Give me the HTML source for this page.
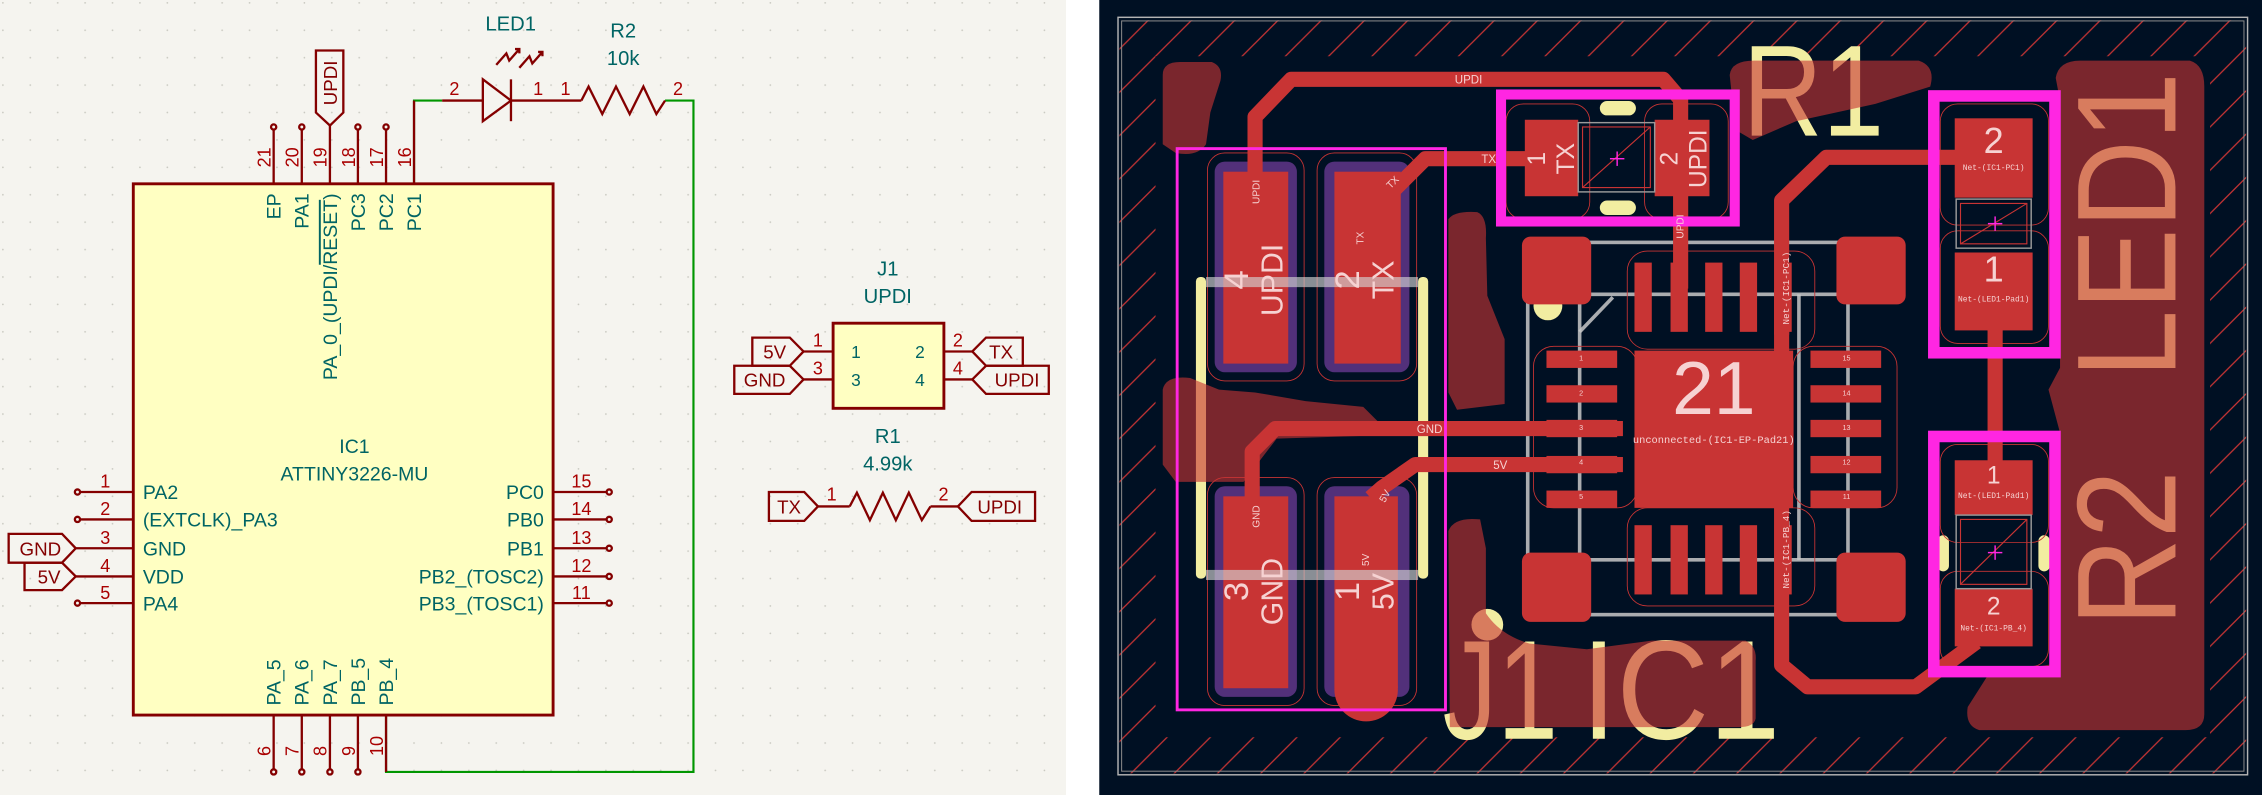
<!DOCTYPE html>
<html><head><meta charset="utf-8"><style>
html,body{margin:0;padding:0;background:#fff;}
svg{display:block;}
text{font-family:"Liberation Sans",sans-serif;}
.t{fill:#006464;}
.n{fill:#a90000;font-size:12.5px;}
.k{stroke:#840000;stroke-width:1.6;fill:none;}
.lbl{fill:#840000;font-size:13px;}
.pt{fill:#f6d2d2;}
.mono{font-family:"Liberation Mono",monospace;}
</style></head><body>
<svg width="2262" height="795" viewBox="0 0 1568 551" preserveAspectRatio="none" xmlns="http://www.w3.org/2000/svg">
<defs>
<pattern id="dots" width="19" height="19" patternUnits="userSpaceOnUse"><circle cx="2" cy="2" r="0.6" fill="#c8c8c0"/></pattern>
<pattern id="hatch" width="30" height="30" patternUnits="userSpaceOnUse"><line x1="0" y1="30" x2="30" y2="0" stroke="#c83434" stroke-width="0.9"/><line x1="-3" y1="3" x2="3" y2="-3" stroke="#c83434" stroke-width="0.9"/><line x1="27" y1="33" x2="33" y2="27" stroke="#c83434" stroke-width="0.9"/></pattern>
</defs>
<!-- schematic -->
<rect x="0" y="0" width="739" height="551" fill="#f5f4ef"/>
<rect x="0" y="0" width="739" height="551" fill="url(#dots)"/>
<rect x="739" y="0" width="23" height="551" fill="#ffffff"/>

<polyline points="287,127 287,69.7 306.5,69.7" fill="none" stroke="#009600" stroke-width="1.5"/>
<polyline points="461,69.7 480.7,69.7 480.7,535 267.6,535 267.6,495.6" fill="none" stroke="#009600" stroke-width="1.5"/>

<rect x="92.4" y="127.4" width="291" height="368.2" fill="#ffffc2" stroke="#840000" stroke-width="2"/>
<g class="k">
<line x1="189.7" y1="90" x2="189.7" y2="127"/><line x1="209.2" y1="90" x2="209.2" y2="127"/><line x1="228.7" y1="87" x2="228.7" y2="127"/><line x1="248.1" y1="90" x2="248.1" y2="127"/><line x1="267.6" y1="90" x2="267.6" y2="127"/><line x1="287" y1="69.7" x2="287" y2="127"/>
<circle cx="189.7" cy="88" r="1.8"/><circle cx="209.2" cy="88" r="1.8"/><circle cx="248.1" cy="88" r="1.8"/><circle cx="267.6" cy="88" r="1.8"/>
<line x1="55.5" y1="341" x2="92" y2="341"/><line x1="55.5" y1="360" x2="92" y2="360"/><line x1="52.5" y1="380" x2="92" y2="380"/><line x1="52.5" y1="399.5" x2="92" y2="399.5"/><line x1="55.5" y1="418" x2="92" y2="418"/>
<circle cx="53.7" cy="341" r="1.8"/><circle cx="53.7" cy="360" r="1.8"/><circle cx="53.7" cy="418" r="1.8"/>
<line x1="383.4" y1="341" x2="420.5" y2="341"/><line x1="383.4" y1="360" x2="420.5" y2="360"/><line x1="383.4" y1="380" x2="420.5" y2="380"/><line x1="383.4" y1="399.5" x2="420.5" y2="399.5"/><line x1="383.4" y1="418" x2="420.5" y2="418"/>
<circle cx="422.3" cy="341" r="1.8"/><circle cx="422.3" cy="360" r="1.8"/><circle cx="422.3" cy="380" r="1.8"/><circle cx="422.3" cy="399.5" r="1.8"/><circle cx="422.3" cy="418" r="1.8"/>
<line x1="189.7" y1="496" x2="189.7" y2="533"/><line x1="209.2" y1="496" x2="209.2" y2="533"/><line x1="228.7" y1="496" x2="228.7" y2="533"/><line x1="248.1" y1="496" x2="248.1" y2="533"/><line x1="267.6" y1="496" x2="267.6" y2="535"/>
<circle cx="189.7" cy="535" r="1.8"/><circle cx="209.2" cy="535" r="1.8"/><circle cx="228.7" cy="535" r="1.8"/><circle cx="248.1" cy="535" r="1.8"/>
<polygon points="219,35 238,35 238,78 228.7,87 219,78"/>
<polygon points="6,370 43,370 52.5,380 43,390 6,390"/>
<polygon points="17,390 43,390 52.5,399.5 43,409 17,409"/>
</g>
<text class="lbl" transform="translate(233.5,73) rotate(-90)">UPDI</text>
<text class="lbl" x="28" y="385" text-anchor="middle">GND</text>
<text class="lbl" x="34" y="404.5" text-anchor="middle">5V</text>

<g class="n">
<text transform="translate(187.5,116) rotate(-90)">21</text>
<text transform="translate(207,116) rotate(-90)">20</text>
<text transform="translate(226.5,116) rotate(-90)">19</text>
<text transform="translate(246,116) rotate(-90)">18</text>
<text transform="translate(265.5,116) rotate(-90)">17</text>
<text transform="translate(285,116) rotate(-90)">16</text>
<text transform="translate(187.5,524) rotate(-90)">6</text>
<text transform="translate(207,524) rotate(-90)">7</text>
<text transform="translate(226.5,524) rotate(-90)">8</text>
<text transform="translate(246,524) rotate(-90)">9</text>
<text transform="translate(265.5,524) rotate(-90)">10</text>
<text x="73" y="338" text-anchor="middle">1</text><text x="73" y="357" text-anchor="middle">2</text><text x="73" y="377" text-anchor="middle">3</text><text x="73" y="396.5" text-anchor="middle">4</text><text x="73" y="415" text-anchor="middle">5</text>
<text x="403" y="338" text-anchor="middle">15</text><text x="403" y="357" text-anchor="middle">14</text><text x="403" y="377" text-anchor="middle">13</text><text x="403" y="396.5" text-anchor="middle">12</text><text x="403" y="415" text-anchor="middle">11</text>
</g>
<g class="t" style="font-size:13.5px">
<text transform="translate(194.5,134) rotate(-90)" text-anchor="end">EP</text>
<text transform="translate(214,134) rotate(-90)" text-anchor="end">PA1</text>
<text transform="translate(233.5,134) rotate(-90)" text-anchor="end">PA_0_(UPDI/<tspan text-decoration="overline">RESET</tspan>)</text>
<text transform="translate(253,134) rotate(-90)" text-anchor="end">PC3</text>
<text transform="translate(272.5,134) rotate(-90)" text-anchor="end">PC2</text>
<text transform="translate(292,134) rotate(-90)" text-anchor="end">PC1</text>
<text transform="translate(194.5,489) rotate(-90)">PA_5</text>
<text transform="translate(214,489) rotate(-90)">PA_6</text>
<text transform="translate(233.5,489) rotate(-90)">PA_7</text>
<text transform="translate(253,489) rotate(-90)">PB_5</text>
<text transform="translate(272.5,489) rotate(-90)">PB_4</text>
<text x="99" y="346">PA2</text><text x="99" y="365">(EXTCLK)_PA3</text><text x="99" y="385">GND</text><text x="99" y="404.5">VDD</text><text x="99" y="423">PA4</text>
<text x="377" y="346" text-anchor="end">PC0</text><text x="377" y="365" text-anchor="end">PB0</text><text x="377" y="385" text-anchor="end">PB1</text><text x="377" y="404.5" text-anchor="end">PB2_(TOSC2)</text><text x="377" y="423" text-anchor="end">PB3_(TOSC1)</text>
<text x="245.7" y="314" text-anchor="middle">IC1</text>
<text x="245.7" y="333" text-anchor="middle">ATTINY3226-MU</text>
</g>

<g class="k">
<line x1="306.5" y1="69.7" x2="334.7" y2="69.7"/>
<polygon points="334.7,55 354.2,69.7 334.7,84"/>
<line x1="354.2" y1="55" x2="354.2" y2="84"/>
<line x1="354.2" y1="69.7" x2="403" y2="69.7"/>
<polyline points="403,69.7 408,60 417.5,79 427,60 436.5,79 446,60 455,79 461,69.7"/>
<polyline points="344,45 351,37 353,42 360,34"/><polyline points="357,34 360,34 360,37"/>
<polyline points="360,47 367,39 369,44 376,36"/><polyline points="373,36 376,36 376,39"/>
</g>
<g class="n"><text x="315" y="66" text-anchor="middle">2</text><text x="373" y="66" text-anchor="middle">1</text><text x="392" y="66" text-anchor="middle">1</text><text x="470" y="66" text-anchor="middle">2</text></g>
<g class="t" style="font-size:14px"><text x="354" y="21" text-anchor="middle">LED1</text><text x="432" y="26" text-anchor="middle">R2</text><text x="432" y="45" text-anchor="middle">10k</text></g>

<rect x="577.5" y="224" width="76.8" height="59" fill="#ffffc2" stroke="#840000" stroke-width="2"/>
<g class="k">
<line x1="557" y1="243.6" x2="577.5" y2="243.6"/><line x1="557" y1="263" x2="577.5" y2="263"/>
<line x1="654.3" y1="243.6" x2="674" y2="243.6"/><line x1="654.3" y1="263" x2="674" y2="263"/>
<polygon points="521.5,234 547.5,234 557,243.6 547.5,253.5 521.5,253.5"/>
<polygon points="509,253.5 547.5,253.5 557,263 547.5,273 509,273"/>
<polygon points="674,243.6 683.5,234 709,234 709,253.5 683.5,253.5"/>
<polygon points="674,263 683.5,253.5 727,253.5 727,273 683.5,273"/>
<polygon points="533,341 557.5,341 567,351 557.5,361 533,361"/>
<line x1="567" y1="351" x2="589" y2="351"/>
<polyline points="589,351 594,341.5 603,360.5 612,341.5 621,360.5 630,341.5 639,360.5 645,351"/>
<line x1="645" y1="351" x2="664" y2="351"/>
<polygon points="664,351 673.5,341 717.5,341 717.5,361 673.5,361"/>
</g>
<g class="lbl">
<text x="537" y="248.5" text-anchor="middle">5V</text><text x="530" y="268" text-anchor="middle">GND</text>
<text x="694" y="248.5" text-anchor="middle">TX</text><text x="705" y="268" text-anchor="middle">UPDI</text>
<text x="547" y="356" text-anchor="middle">TX</text><text x="693" y="356" text-anchor="middle">UPDI</text>
</g>
<g class="n"><text x="567" y="240" text-anchor="middle">1</text><text x="567" y="259.5" text-anchor="middle">3</text><text x="664" y="240" text-anchor="middle">2</text><text x="664" y="259.5" text-anchor="middle">4</text>
<text x="576.5" y="347" text-anchor="middle">1</text><text x="654" y="347" text-anchor="middle">2</text></g>
<g class="t" style="font-size:12px"><text x="590" y="248">1</text><text x="590" y="267.5">3</text><text x="641" y="248" text-anchor="end">2</text><text x="641" y="267.5" text-anchor="end">4</text></g>
<g class="t" style="font-size:14px"><text x="615.4" y="191" text-anchor="middle">J1</text><text x="615.4" y="210" text-anchor="middle">UPDI</text>
<text x="615.4" y="307" text-anchor="middle">R1</text><text x="615.4" y="326" text-anchor="middle">4.99k</text></g>

<!-- ================= PCB ================= -->
<rect x="762" y="0" width="806" height="551" fill="#001023"/>
<path fill="url(#hatch)" fill-rule="evenodd" d="M776,14 H1557 V536 H776 Z M801,39 H1532 V511 H801 Z"/>
<rect x="775" y="12" width="783" height="525" fill="none" stroke="#b4b4b4" stroke-width="1"/>
<rect x="777.5" y="14.5" width="778" height="520" fill="none" stroke="#8a8a8a" stroke-width="0.7"/>

<g fill="#f2eda1">
<text x="1208" y="94" textLength="98" lengthAdjust="spacingAndGlyphs" style="font-size:90px">R1</text>
<text transform="translate(1508,262) rotate(-90)" textLength="212" lengthAdjust="spacingAndGlyphs" style="font-size:98px">LED1</text>
<text transform="translate(1508,434) rotate(-90)" textLength="108" lengthAdjust="spacingAndGlyphs" style="font-size:98px">R2</text>
<text x="1000" y="512" textLength="80" lengthAdjust="spacingAndGlyphs" style="font-size:98px">J1</text>
<text x="1096" y="512" textLength="138" lengthAdjust="spacingAndGlyphs" style="font-size:98px">IC1</text>
<circle cx="1031" cy="433" r="11"/>
<circle cx="1073" cy="212" r="10"/>
<rect x="829" y="192" width="7" height="209" rx="3"/>
<rect x="983" y="192" width="7" height="209" rx="3"/>
<rect x="1109" y="70" width="25" height="10" rx="5"/>
<rect x="1109" y="139" width="25" height="10" rx="5"/>
<rect x="1343" y="371" width="8" height="25" rx="4"/>
<rect x="1413" y="371" width="8" height="25" rx="4"/>
</g>

<g fill="rgba(200,52,52,0.61)">
<path d="M806,52 Q806,43 818,43 L840,43 Q848,46 846,56 L839,78 L836,100 Q830,109 815,106 L806,100 Z"/>
<path d="M806,270 Q808,260 825,262 L845,270 L870,272 L905,278 L945,282 L955,292 L948,302 L885,304 L862,334 L815,334 L806,322 Z"/>
<path d="M1004,152 Q1008,146 1024,147 Q1031,150 1030,165 L1031,205 L1043,235 L1043,280 L1010,284 L1004,272 Z"/>
<path d="M1004,368 Q1008,358 1026,360 L1030,380 L1030,425 Q1040,440 1060,446 L1100,450 L1145,444 L1210,444 Q1218,448 1217,458 L1217,498 Q1216,504 1205,504 L1005,504 Z"/>
<path d="M1199,52 Q1200,42 1216,42 L1330,42 Q1342,46 1338,60 L1300,72 L1245,84 L1215,97 L1203,90 Z"/>
<path d="M1425,54 Q1427,42 1442,42 L1518,42 Q1528,45 1528,60 L1528,495 Q1528,506 1515,506 L1372,506 Q1362,503 1364,490 L1378,468 L1424,460 L1428,420 L1428,300 L1420,270 L1428,255 L1428,70 Z"/>
</g>

<g fill="none" stroke="rgba(200,200,200,0.85)" stroke-width="2.5">
<rect x="1059" y="168" width="222" height="258"/>
<line x1="1059" y1="204" x2="1281" y2="204"/><line x1="1059" y1="388" x2="1281" y2="388"/>
<line x1="1095" y1="204" x2="1095" y2="388"/><line x1="1247" y1="204" x2="1247" y2="388"/>
<polyline points="1095,230 1118,206"/>
</g>

<g fill="#52307a" stroke="none">
<rect x="842" y="112" width="57" height="146" rx="7"/>
<rect x="918" y="112" width="59" height="146" rx="7"/>
<rect x="842" y="337" width="57" height="146" rx="7"/>
<rect x="918" y="337" width="59" height="146" rx="7"/>
</g>
<g fill="none" stroke="#c83434" stroke-width="0.6">
<rect x="837" y="106" width="67" height="158" rx="12"/><rect x="913" y="106" width="69" height="158" rx="12"/>
<rect x="837" y="331" width="67" height="158" rx="12"/><rect x="913" y="331" width="69" height="158" rx="12"/>
<rect x="1044" y="72" width="58" height="80" rx="12"/><rect x="1140" y="72" width="58" height="80" rx="12"/>
<rect x="1345" y="72" width="75" height="84" rx="12"/><rect x="1345" y="160" width="75" height="78" rx="12"/>
<rect x="1345" y="308" width="75" height="68" rx="12"/><rect x="1345" y="396" width="75" height="66" rx="12"/>
<rect x="1063" y="240" width="72" height="112" rx="14"/><rect x="1243" y="240" width="72" height="112" rx="14"/>
<rect x="1128" y="174" width="130" height="68" rx="14"/><rect x="1128" y="352" width="130" height="68" rx="14"/>
</g>

<g fill="none" stroke="#c83434" stroke-width="10.5" stroke-linejoin="round">
<polyline points="870,125 870,81 895,55 1153,55 1165,69 1165,200"/>
<polyline points="966,132 988,110 1063,110"/>
<polyline points="868,350 868,313 884,297 1125,297"/>
<polyline points="950,345 958,338 981,322 1125,322"/>
<polyline points="1360,109 1266,109 1235,139 1235,461 1253,476 1328,476 1370,445"/>
<line x1="1383" y1="225" x2="1383" y2="320"/>
<line x1="1235" y1="200" x2="1235" y2="232"/>
</g>
<g fill="#c83434">
<rect x="848" y="119" width="45" height="133"/>
<rect x="925" y="119" width="46" height="133"/>
<rect x="848" y="344" width="45" height="133"/>
<rect x="925" y="344" width="44" height="133"/>
<circle cx="947" cy="478" r="22"/>
<rect x="1057" y="83" width="37" height="53"/>
<rect x="1147" y="83" width="38" height="53"/>
<rect x="1355" y="82" width="54" height="55"/>
<rect x="1355" y="175" width="54" height="54"/>
<rect x="1355" y="319" width="54" height="38"/>
<rect x="1355" y="408" width="54" height="40"/>
<rect x="1133" y="243" width="110" height="109"/>
<rect x="1055" y="164" width="48" height="47" rx="6"/><rect x="1273" y="164" width="48" height="47" rx="6"/>
<rect x="1055" y="383" width="48" height="48" rx="6"/><rect x="1273" y="383" width="48" height="48" rx="6"/>
<rect x="1133" y="182" width="12" height="48"/><rect x="1158" y="182" width="12" height="48"/><rect x="1182" y="182" width="12" height="48"/><rect x="1206" y="182" width="12" height="48"/><rect x="1230" y="182" width="12" height="48"/>
<rect x="1133" y="364" width="12" height="48"/><rect x="1158" y="364" width="12" height="48"/><rect x="1182" y="364" width="12" height="48"/><rect x="1206" y="364" width="12" height="48"/><rect x="1230" y="364" width="12" height="48"/>
<rect x="1072" y="243" width="49" height="12"/><rect x="1072" y="267" width="49" height="12"/><rect x="1072" y="291" width="49" height="12"/><rect x="1072" y="316" width="49" height="12"/><rect x="1072" y="340" width="49" height="12"/>
<rect x="1255" y="243" width="49" height="12"/><rect x="1255" y="267" width="49" height="12"/><rect x="1255" y="291" width="49" height="12"/><rect x="1255" y="316" width="49" height="12"/><rect x="1255" y="340" width="49" height="12"/>
</g>
<g fill="rgba(210,210,210,0.65)">
<rect x="836" y="192" width="147" height="7"/>
<rect x="836" y="395" width="147" height="7"/>
</g>

<g fill="none" stroke="#9a9a9a" stroke-width="1">
<rect x="1094" y="85" width="53" height="48"/>
<rect x="1356" y="138" width="52" height="34"/>
<rect x="1356" y="357" width="52" height="51"/>
</g>
<g fill="none" stroke="#c83434" stroke-width="0.8">
<rect x="1097" y="88" width="47" height="42"/><line x1="1097" y1="130" x2="1144" y2="88"/>
<rect x="1359" y="141" width="46" height="28"/><line x1="1359" y1="169" x2="1405" y2="141"/>
<rect x="1359" y="360" width="46" height="45"/><line x1="1359" y1="405" x2="1405" y2="360"/>
</g>
<g stroke="#ff26e2" stroke-width="1">
<line x1="1116" y1="110" x2="1126" y2="110"/><line x1="1121" y1="105" x2="1121" y2="115"/>
<line x1="1378" y1="155" x2="1388" y2="155"/><line x1="1383" y1="150" x2="1383" y2="160"/>
<line x1="1378" y1="383" x2="1388" y2="383"/><line x1="1383" y1="378" x2="1383" y2="388"/>
</g>

<g fill="none" stroke="#ff26e2">
<rect x="816" y="103" width="186" height="389" stroke-width="2"/>
<rect x="1040.5" y="65.5" width="162" height="88" stroke-width="7"/>
<rect x="1340.5" y="66.5" width="84" height="178" stroke-width="8"/>
<rect x="1340.5" y="302.5" width="84" height="163" stroke-width="8"/>
</g>

<g class="pt">
<text transform="translate(865,194) rotate(-90)" text-anchor="middle" style="font-size:24px">4</text>
<text transform="translate(889,194) rotate(-90)" text-anchor="middle" style="font-size:21px">UPDI</text>
<text transform="translate(942,194) rotate(-90)" text-anchor="middle" style="font-size:24px">2</text>
<text transform="translate(966,194) rotate(-90)" text-anchor="middle" style="font-size:21px">TX</text>
<text transform="translate(945,165) rotate(-90)" text-anchor="middle" style="font-size:7px">TX</text>
<text transform="translate(873,133) rotate(-90)" text-anchor="middle" style="font-size:7px">UPDI</text>
<text transform="translate(967,128) rotate(-45)" text-anchor="middle" style="font-size:7px">TX</text>
<text transform="translate(865,410) rotate(-90)" text-anchor="middle" style="font-size:24px">3</text>
<text transform="translate(889,410) rotate(-90)" text-anchor="middle" style="font-size:21px">GND</text>
<text transform="translate(942,410) rotate(-90)" text-anchor="middle" style="font-size:24px">1</text>
<text transform="translate(966,410) rotate(-90)" text-anchor="middle" style="font-size:21px">5V</text>
<text transform="translate(873,358) rotate(-90)" text-anchor="middle" style="font-size:7px">GND</text>
<text transform="translate(949,388) rotate(-90)" text-anchor="middle" style="font-size:7px">5V</text>
<text transform="translate(962,345) rotate(-60)" text-anchor="middle" style="font-size:7px">5V</text>
<text transform="translate(1071,110) rotate(-90)" text-anchor="middle" style="font-size:17px">1</text>
<text transform="translate(1091,110) rotate(-90)" text-anchor="middle" style="font-size:17px">TX</text>
<text transform="translate(1163,110) rotate(-90)" text-anchor="middle" style="font-size:17px">2</text>
<text transform="translate(1183,110) rotate(-90)" text-anchor="middle" style="font-size:17px">UPDI</text>
<text transform="translate(1167,157) rotate(-90)" text-anchor="middle" style="font-size:7px">UPDI</text>
<text x="1018" y="58" text-anchor="middle" style="font-size:8px">UPDI</text>
<text x="1032" y="113" text-anchor="middle" style="font-size:8px">TX</text>
<text x="991" y="300" text-anchor="middle" style="font-size:8px">GND</text>
<text x="1040" y="325" text-anchor="middle" style="font-size:8px">5V</text>
<text x="1382" y="106" text-anchor="middle" style="font-size:25px">2</text>
<text x="1382" y="195" text-anchor="middle" style="font-size:25px">1</text>
<text x="1382" y="335" text-anchor="middle" style="font-size:17px">1</text>
<text x="1382" y="426" text-anchor="middle" style="font-size:17px">2</text>
<text class="mono" x="1382" y="118" text-anchor="middle" style="font-size:5.5px">Net-(IC1-PC1)</text>
<text class="mono" x="1382" y="209" text-anchor="middle" style="font-size:5.5px">Net-(LED1-Pad1)</text>
<text class="mono" x="1382" y="345" text-anchor="middle" style="font-size:5.5px">Net-(LED1-Pad1)</text>
<text class="mono" x="1382" y="437" text-anchor="middle" style="font-size:5.5px">Net-(IC1-PB_4)</text>
<text x="1188" y="287" text-anchor="middle" style="font-size:52px">21</text>
<text class="mono" x="1188" y="307" text-anchor="middle" style="font-size:7.2px">unconnected-(IC1-EP-Pad21)</text>
<text class="mono" transform="translate(1240,225) rotate(-90)" style="font-size:6.5px">Net-(IC1-PC1)</text>
<text class="mono" transform="translate(1240,408) rotate(-90)" style="font-size:6.5px">Net-(IC1-PB_4)</text>
<g style="font-size:5px" text-anchor="middle">
<text x="1096" y="250">1</text><text x="1096" y="274">2</text><text x="1096" y="298">3</text><text x="1096" y="322">4</text><text x="1096" y="346">5</text>
<text x="1280" y="250">15</text><text x="1280" y="274">14</text><text x="1280" y="298">13</text><text x="1280" y="322">12</text><text x="1280" y="346">11</text>
</g>
</g>
</svg>
</body></html>
